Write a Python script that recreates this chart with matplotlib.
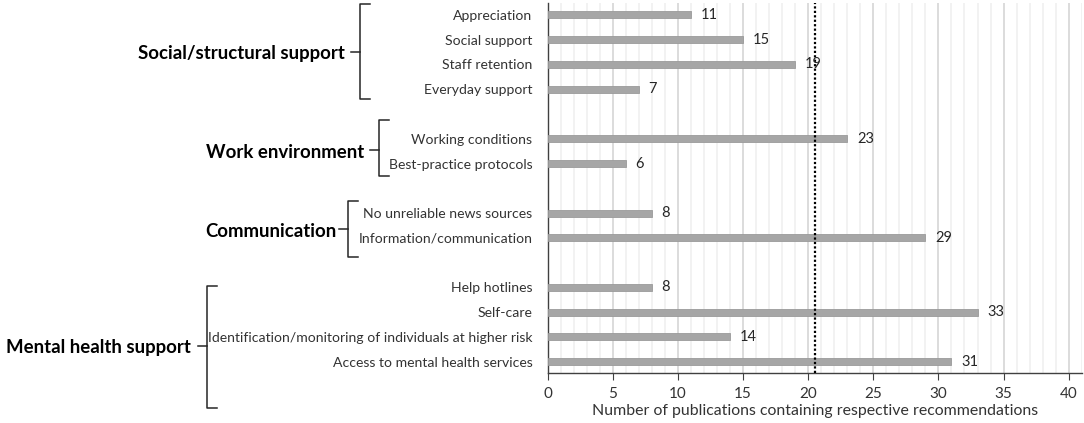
import matplotlib.pyplot as plt
from matplotlib.lines import Line2D
from matplotlib.ticker import MultipleLocator

plt.rcParams['font.family'] = ['Lato', 'DejaVu Sans']

# data
group_names = ["Social/structural support", "Work environment",
               "Communication", "Mental health support"]
group_items = [
    ["Appreciation", "Social support", "Staff retention", "Everyday support"],
    ["Working conditions", "Best-practice protocols"],
    ["No unreliable news sources", "Information/communication"],
    ["Help hotlines", "Self-care",
     "Identification/monitoring of individuals at higher risk",
     "Access to mental health services"],
]
group_counts = [
    [11, 15, 19, 7],
    [23, 6],
    [8, 29],
    [8, 33, 14, 31],
]
threshold = 20.5  # half of the 41 publications

W, H = 1084, 423
fig = plt.figure(figsize=(W / 100, H / 100), dpi=100)
ax = fig.add_axes([547.7 / W, 1 - 373.3 / H, (1081.7 - 547.7) / W, (373.3 - 3.3) / H])

# slot positions, one empty slot between groups
positions, labels, values = [], [], []
slot = 0
for items, counts in zip(group_items, group_counts):
    for name, n in zip(items, counts):
        positions.append(slot)
        labels.append(name)
        values.append(n)
        slot += 1
    slot += 1

ax.barh(positions, values, height=0.28, color='#a6a6a6', edgecolor='#9a9a9a', linewidth=0.6, zorder=3)
for p, v in zip(positions, values):
    ax.annotate(str(v), (v, p), xytext=(7, 0), textcoords='offset points',
                va='center', ha='left', fontsize=10.5, color='#262626', zorder=5)

ax.axvline(threshold, color='black', linestyle=(0, (1, 1)), linewidth=1.6, zorder=4)

ax.set_xlim(0, 41)
ax.set_ylim(positions[-1] + 0.47, -0.47)
ax.xaxis.set_major_locator(MultipleLocator(5))
ax.xaxis.set_minor_locator(MultipleLocator(1))
ax.grid(axis='x', which='major', color='#d9d9d9', linewidth=1.3, zorder=0)
ax.grid(axis='x', which='minor', color='#f0f0f0', linewidth=1.2, zorder=0)
ax.set_axisbelow(True)

ax.set_yticks(positions)
ax.set_yticklabels(labels, fontsize=10.1, color='#333333')
ax.tick_params(axis='y', length=0, pad=11)
ax.tick_params(axis='x', which='major', length=5, color='#404040', labelsize=11, labelcolor='#333333', pad=5)
ax.tick_params(axis='x', which='minor', length=0)
ax.set_xlabel("Number of publications containing respective recommendations",
              fontsize=11.4, color='#333333', labelpad=2)

for side in ['top', 'right']:
    ax.spines[side].set_visible(False)
for side in ['left', 'bottom']:
    ax.spines[side].set_color('#404040')
    ax.spines[side].set_linewidth(1.0)

# group brackets (pixel layout): bracket x, top y, bottom y, mid y, label right edge
brackets = [
    (360, 4, 99, 52, 345),
    (378.5, 120, 176, 150, 364),
    (348, 201, 257, 229, 336),
    (207, 286, 408, 346, 191),
]


def fx(x):
    return x / W


def fy(y):
    return 1 - y / H


for name, (bx, top, bot, mid, lx) in zip(group_names, brackets):
    xs = [bx + 10, bx, bx, bx + 10]
    ys = [top, top, bot, bot]
    fig.add_artist(Line2D([fx(x) for x in xs], [fy(y) for y in ys], color='#262626', linewidth=1.1))
    fig.add_artist(Line2D([fx(bx - 9), fx(bx)], [fy(mid), fy(mid)], color='#262626', linewidth=1.1))
    fig.text(fx(lx), fy(mid + 2), name, ha='right', va='center', fontsize=13.4, fontweight='bold', color='black')

fig.savefig('out.png', dpi=100)
